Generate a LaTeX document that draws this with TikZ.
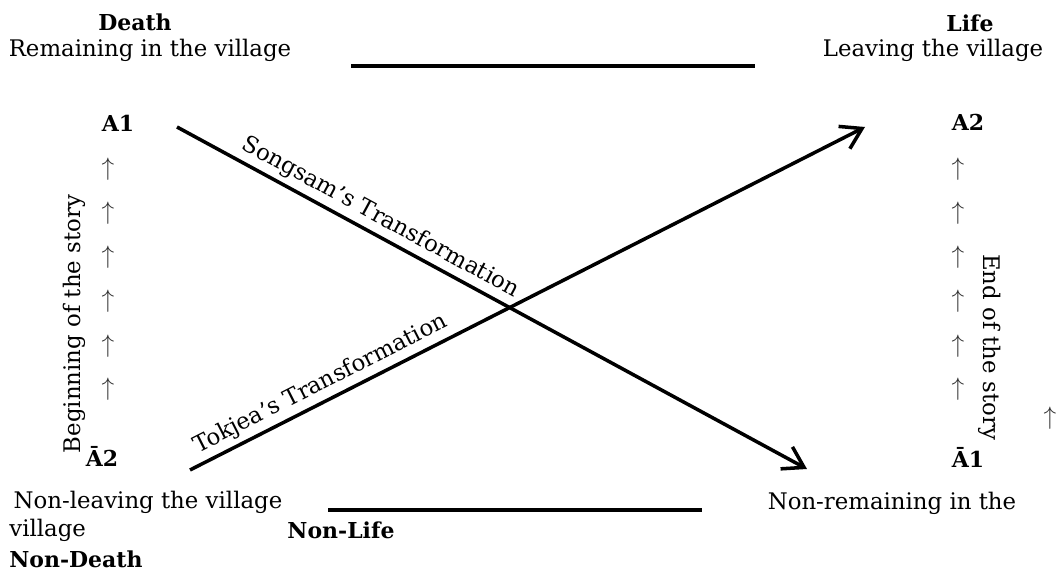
\documentclass[tikz,border=0pt]{standalone}
\usepackage{fontspec}
\setmainfont{DejaVu Serif}
\usetikzlibrary{arrows.meta}

\begin{document}
\begin{tikzpicture}[
  x=0.02cm, y=-0.02cm,
  font=\fontsize{13}{15}\selectfont,
  term/.style={font=\fontsize{12.5}{15}\selectfont\bfseries, inner sep=0pt, anchor=base},
  gloss/.style={inner sep=0pt, anchor=base},
  up/.style={inner sep=0pt, text=black!80, font=\Large},
  side/.style={inner sep=0pt},
  bar/.style={line width=2pt},
  trans/.style={line width=2pt, -{Straight Barb[length=4mm,width=5mm]}},
  along/.style={sloped, above, inner sep=2.5pt}
]
\useasboundingbox (0,0) rectangle (1056,573);

% top and bottom terms
\node[term] (death) at (135,31) {Death};
\node[gloss] (remain) at (150,57) {Remaining in the village};
\node[term] (life) at (970,32) {Life};
\node[gloss] (leave) at (933,57) {Leaving the village};
\node[gloss] (nonleave) at (148,509) {Non-leaving the village};
\node[gloss, anchor=base west] (vill) at (9,537) {village};
\node[term] (nonlife) at (341,539) {Non-Life};
\node[term, anchor=base west] (nondeath) at (9,568) {Non-Death};
\node[gloss] (nonremain) at (892,510) {Non-remaining in the};

% corners of the square
\node[term] (a1) at (118,132) {A1};
\node[term] (a2) at (968,131) {A2};
\node[term] (na2) at (102,467) {Ā2};
\node[term] (na1) at (968,468) {Ā1};

% arrow columns
\foreach \y [count=\i] in {169,213,257,301,346,389} {
  \node[up] (lup\i) at (108,\y) {$\uparrow$};
  \node[up] (rup\i) at (958,\y) {$\uparrow$};
}
\node[up] (xup) at (1050,418) {$\uparrow$};

\node[side, rotate=90] (begin) at (74,324) {Beginning of the story};
\node[side, rotate=-90] (end) at (990,347) {End of the story};

% contrary lines
\coordinate (topL) at (351,66);
\coordinate (topR) at (755,66);
\coordinate (botL) at (328,510);
\coordinate (botR) at (702,510);
\draw[bar] (topL) -- (topR);
\draw[bar] (botL) -- (botR);

% transformations
\coordinate (sStart) at (177,127);
\coordinate (sEnd) at (807,469);
\coordinate (tStart) at (190,470);
\coordinate (tEnd) at (865,127);
\draw[trans] (sStart) -- node[along, pos=0.31] {Songsam’s Transformation} (sEnd);
\draw[trans] (tStart) -- node[along, pos=0.205] {Tokjea’s Transformation} (tEnd);
\end{tikzpicture}
\end{document}
